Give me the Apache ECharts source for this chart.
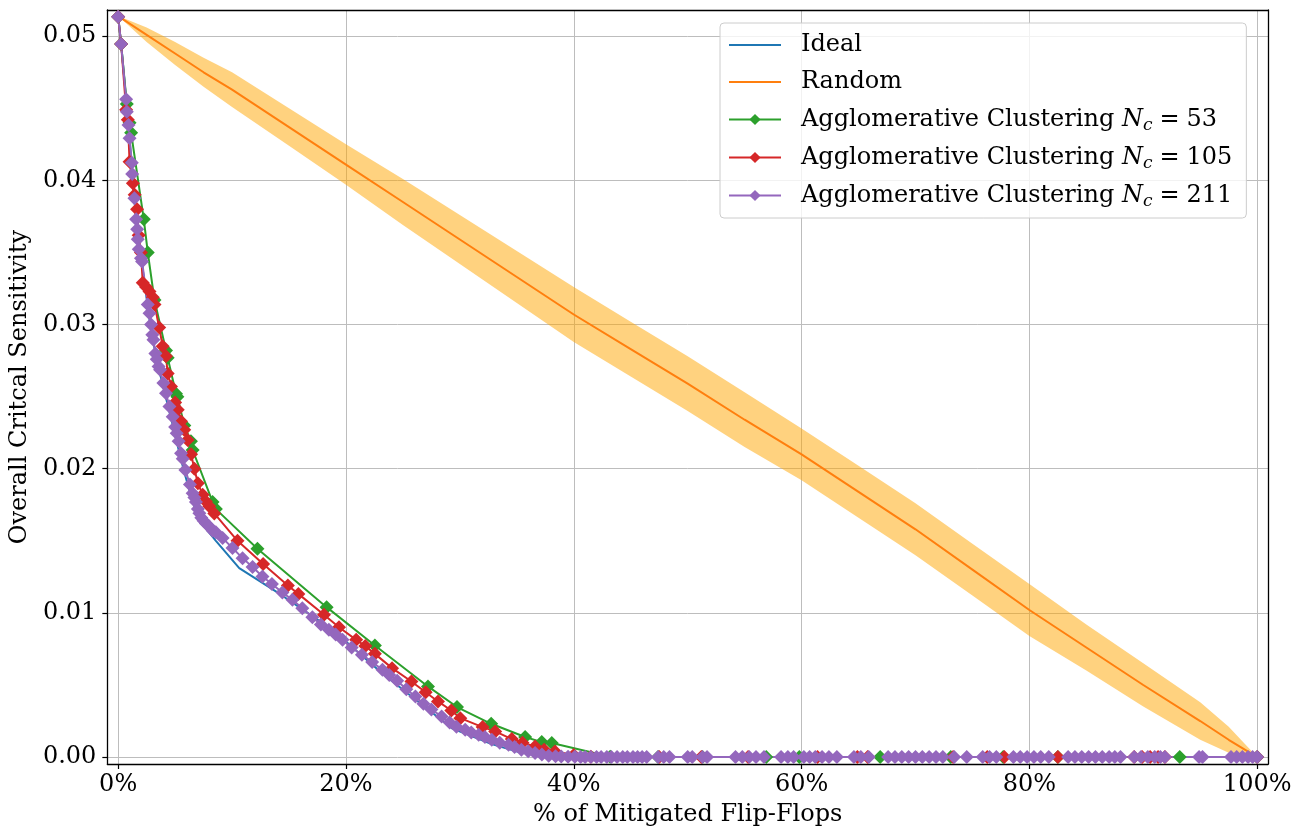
<!DOCTYPE html>
<html><head><meta charset="utf-8">
<script src="https://cdn.jsdelivr.net/npm/echarts@6/dist/echarts.min.js"></script>
<style>html,body{margin:0;padding:0;background:#fff}#c{width:1303px;height:839px}</style>
</head><body><div id="c"></div>
<script>
const xTicks = [0, 20, 40, 60, 80, 100];
const yTicks = [0, 0.01, 0.02, 0.03, 0.04, 0.05];
const seriesNames = ['Ideal', 'Random', 'Agglomerative Clustering Nc53', 'Agglomerative Clustering Nc105', 'Agglomerative Clustering Nc211'];

const idealData = [[0,0.0514],[0.26,0.0495],[0.7,0.0456],[1.0,0.0429],[1.4,0.0389],[1.8,0.0354],[2.1,0.0342],[2.7,0.0306],[3.1,0.0287],[3.7,0.0265],[4.2,0.0249],[4.8,0.0230],[5.5,0.0207],[5.9,0.0195],[6.5,0.0178],[7.13,0.0164],[8.58,0.0150],[10.63,0.0131],[13.84,0.0115],[18.5,0.0090],[20.3,0.0078],[23.2,0.0058],[26.1,0.0040],[29.3,0.0020],[32.8,0.0009],[35.4,0.0003],[37.5,0.0001],[39.0,0],[100,0]];

const randomX = [0, 2.5, 5, 7.5, 10, 15, 20, 25, 30, 35, 40, 45, 50, 55, 60, 65, 70, 75, 80, 85, 90, 95, 97.5, 100];
const randomMean = [0.0514, 0.0501, 0.0488, 0.0475, 0.0463, 0.0437, 0.0411, 0.0385, 0.0359, 0.0333, 0.0307, 0.0283, 0.0259, 0.0234, 0.0210, 0.0184, 0.0158, 0.0130, 0.0102, 0.0076, 0.0050, 0.0025, 0.0012, 0.0];
const randomLow = [0.0514, 0.0496, 0.0480, 0.0465, 0.0451, 0.0424, 0.0397, 0.0369, 0.0342, 0.0315, 0.0288, 0.0264, 0.0240, 0.0215, 0.0192, 0.0166, 0.0140, 0.0112, 0.0084, 0.0060, 0.0035, 0.0012, 0.0003, 0.0];
const randomHigh = [0.0514, 0.0506, 0.0496, 0.0485, 0.0475, 0.0450, 0.0425, 0.0401, 0.0376, 0.0351, 0.0326, 0.0302, 0.0278, 0.0253, 0.0228, 0.0202, 0.0176, 0.0148, 0.0120, 0.0092, 0.0065, 0.0038, 0.0021, 0.0];

const agg53 = [[0,0.05136],[0.26,0.04947],[0.76,0.04530],[1.0,0.04400],[1.14,0.04330],[2.25,0.03730],[2.6,0.03500],[3.19,0.03170],[4.2,0.02820],[4.35,0.02770],[5.08,0.02520],[5.2,0.02500],[5.81,0.02300],[6.39,0.02190],[6.54,0.02130],[8.29,0.01770],[8.58,0.01720],[12.23,0.01445],[18.3,0.01040],[22.54,0.00774],[27.2,0.00490],[29.75,0.00347],[32.75,0.00231],[35.73,0.00139],[37.19,0.00104],[38.07,0.00097],[43.2,0.00002],[47.4,0],[51.3,0],[56.9,0],[59.8,0],[66.9,0],[73.1,0],[77.7,0],[82.5,0],[93.2,0],[100,0]];

const agg105 = [[0,0.05136],[0.26,0.04947],[0.7,0.04490],[0.85,0.04420],[1.0,0.04130],[1.29,0.03980],[1.45,0.03900],[1.66,0.03800],[1.8,0.03620],[2.0,0.03500],[2.16,0.03290],[2.45,0.03260],[2.75,0.03230],[3.04,0.03190],[3.19,0.03140],[3.6,0.02980],[3.91,0.02850],[4.2,0.02780],[4.35,0.02660],[4.64,0.02570],[5.0,0.02460],[5.23,0.02410],[5.52,0.02330],[5.8,0.02270],[6.1,0.02200],[6.4,0.02100],[6.69,0.02000],[7.0,0.01900],[7.42,0.01820],[7.7,0.01773],[8.0,0.01740],[8.44,0.01690],[10.48,0.01500],[12.73,0.01340],[14.9,0.01190],[15.82,0.01132],[18.07,0.00987],[19.39,0.00901],[20.9,0.00813],[21.7,0.00770],[22.54,0.00716],[24.05,0.00617],[25.75,0.00524],[27.0,0.00450],[28.08,0.00386],[29.25,0.00323],[30.04,0.00270],[32.0,0.00208],[33.1,0.00178],[34.56,0.00125],[35.5,0.00100],[36.6,0.00074],[37.4,0.00050],[38.35,0.00039],[40.0,0.00015],[41.5,0.00003],[47.5,0],[51.2,0],[55.3,0],[61.4,0],[64.9,0],[65.8,0],[73.3,0],[76.3,0],[77.8,0],[82.5,0],[89.2,0],[89.9,0],[90.6,0],[91.3,0],[91.9,0],[100,0]];

const agg211 = [[0,0.05136],[0.26,0.04947],[0.7,0.04563],[0.76,0.04477],[0.91,0.04385],[1.0,0.04293],[1.2,0.04123],[1.23,0.04045],[1.43,0.03877],[1.58,0.03731],[1.67,0.03662],[1.72,0.03592],[1.81,0.03523],[2.0,0.03460],[2.1,0.03437],[2.6,0.03140],[2.75,0.03079],[2.89,0.03000],[3.0,0.02930],[3.1,0.02894],[3.27,0.02800],[3.39,0.02760],[3.55,0.02710],[3.68,0.02686],[3.97,0.02594],[4.2,0.02524],[4.5,0.02431],[4.79,0.02360],[5.0,0.02290],[5.14,0.02247],[5.31,0.02190],[5.52,0.02108],[5.67,0.02070],[5.9,0.01992],[6.3,0.01890],[6.54,0.01830],[6.69,0.01800],[6.83,0.01770],[7.0,0.01720],[7.13,0.01692],[7.3,0.01660],[7.5,0.01640],[7.7,0.01620],[8.0,0.01599],[8.3,0.01570],[8.58,0.01560],[9.17,0.01519],[10.04,0.01450],[10.92,0.01380],[11.8,0.01318],[12.67,0.01252],[13.5,0.01200],[14.42,0.01141],[15.3,0.01091],[16.17,0.01033],[17.05,0.00970],[17.8,0.00920],[18.5,0.00883],[19.1,0.00850],[19.7,0.00813],[20.5,0.00760],[21.4,0.00710],[22.3,0.00660],[23.2,0.00605],[23.8,0.00570],[24.5,0.00530],[25.3,0.00470],[26.1,0.00420],[26.8,0.00370],[27.5,0.00330],[28.4,0.00282],[29.1,0.00240],[29.7,0.00210],[30.47,0.00190],[31.0,0.00170],[31.65,0.00155],[32.2,0.00140],[32.8,0.00120],[33.5,0.00100],[34.27,0.00085],[34.8,0.00070],[35.4,0.00050],[36.0,0.00040],[36.6,0.00028],[37.2,0.00018],[37.8,0.00010],[38.4,0.00006],[38.9,0.00004],[39.5,0.00003],[40.1,0.00002],
[40.6,0],[41.0,0],[41.5,0],[42.0,0],[42.4,0],[42.9,0],[43.3,0],[43.8,0],[44.3,0],[44.7,0],[45.2,0],[45.6,0],[46.0,0],[46.4,0],[47.4,0],[47.9,0],[48.4,0],[50.0,0],[50.4,0],[51.3,0],[51.7,0],[54.2,0],[54.8,0],[55.4,0],[56.0,0],[56.7,0],[58.2,0],[58.8,0],[59.3,0],[60.2,0],[60.7,0],[61.2,0],[61.8,0],[62.4,0],[63.1,0],[64.6,0],[65.2,0],[65.9,0],[67.6,0],[68.2,0],[68.8,0],[69.4,0],[70.0,0],[70.6,0],[71.2,0],[71.8,0],[72.4,0],[73.4,0],[74.5,0],[75.9,0],[76.5,0],[77.1,0],[78.6,0],[79.2,0],[79.8,0],[80.4,0],[81.0,0],[81.7,0],[83.4,0],[84.0,0],[84.6,0],[85.2,0],[85.8,0],[86.4,0],[87.0,0],[87.5,0],[88.0,0],[89.2,0],[89.8,0],[90.4,0],[91.0,0],[91.5,0],[91.9,0],[94.9,0],[95.2,0],[97.7,0],[98.2,0],[98.7,0],[99.2,0],[99.6,0],[100,0]];

const FONT = 'DejaVu Serif';
const FS = 24;
const COLORS = {ideal:'#1f77b4', random:'#ff7f0e', green:'#2ca02c', red:'#d62728', purple:'#9467bd'};
const bandData = randomX.map((x, i) => [x, randomLow[i], randomHigh[i]]);
const randomData = randomX.map((x, i) => [x, randomMean[i]]);

function aggSeries(name, data, color) {
  return {
    name, type: 'line', data, symbol: 'diamond', symbolSize: [14, 14], showAllSymbol: true,
    lineStyle: {color, width: 2}, itemStyle: {color}, clip: false, animation: false, z: 3
  };
}

const chart = echarts.init(document.getElementById('c'));
chart.setOption({
  animation: false,
  grid: {left: 105, top: 10, right: 35, bottom: 75},
  xAxis: [{
    type: 'value', min: -0.95, max: 100.95, splitNumber: 5, minInterval: 20, maxInterval: 20,
    axisLine: {show: true, onZero: false, lineStyle: {color: '#000', width: 1.3}},
    axisTick: {show: true, length: 5, customValues: xTicks, lineStyle: {color: '#000', width: 1.2}},
    axisLabel: {customValues: xTicks, formatter: v => Math.round(v) + '%', fontFamily: FONT, fontSize: FS, color: '#000', margin: 9},
    splitLine: {show: true, lineStyle: {color: '#bdbdbd', width: 1}},
    name: '% of Mitigated Flip-Flops', nameLocation: 'middle', nameGap: 39,
    nameTextStyle: {fontFamily: FONT, fontSize: FS, color: '#000'}
  }, {
    type: 'value', position: 'top', min: -0.95, max: 100.95,
    axisLine: {show: true, onZero: false, lineStyle: {color: '#000', width: 1.3}},
    axisTick: {show: false}, axisLabel: {show: false}, splitLine: {show: false}
  }],
  yAxis: [{
    type: 'value', min: -0.00048, max: 0.05182, splitNumber: 5, minInterval: 0.01, maxInterval: 0.01,
    axisLine: {show: true, onZero: false, lineStyle: {color: '#000', width: 1.3}},
    axisTick: {show: true, length: 5, customValues: yTicks, lineStyle: {color: '#000', width: 1.2}},
    axisLabel: {customValues: yTicks, formatter: v => v.toFixed(2), fontFamily: FONT, fontSize: FS, color: '#000', margin: 11},
    splitLine: {show: true, lineStyle: {color: '#bdbdbd', width: 1}},
    name: 'Overall Critcal Sensitivity', nameLocation: 'middle', nameGap: 72,
    nameTextStyle: {fontFamily: FONT, fontSize: FS, color: '#000'}
  }, {
    type: 'value', position: 'right', min: -0.00048, max: 0.05182,
    axisLine: {show: true, onZero: false, lineStyle: {color: '#000', width: 1.3}},
    axisTick: {show: false}, axisLabel: {show: false}, splitLine: {show: false}
  }],
  legend: {
    data: [
      {name: seriesNames[0], itemStyle: {opacity: 0}},
      {name: seriesNames[1], itemStyle: {opacity: 0}},
      seriesNames[2], seriesNames[3], seriesNames[4]
    ],
    orient: 'vertical', left: 720, top: 23,
    itemWidth: 52, itemHeight: 14, itemGap: 9, padding: [8, 14, 8, 8],
    backgroundColor: 'rgba(255,255,255,0.8)', borderColor: '#cccccc', borderWidth: 1, borderRadius: 4,
    selectedMode: false,
    textStyle: {
      fontFamily: FONT, fontSize: FS, color: '#000', lineHeight: 28, padding: [0, 0, 0, 15],
      rich: {
        t: {fontFamily: FONT, fontSize: FS, color: '#000', lineHeight: 28},
        it: {fontFamily: FONT, fontSize: FS, fontStyle: 'italic', color: '#000', lineHeight: 28},
        sub: {fontFamily: FONT, fontSize: 17, fontStyle: 'italic', color: '#000', lineHeight: 28, padding: [12, 0, 0, 0]},
        eq: {fontFamily: FONT, fontSize: FS, color: '#000', lineHeight: 28, padding: [0, 7, 0, 7]}
      }
    },
    formatter: name => {
      const m = name.match(/^Agglomerative Clustering Nc(\d+)$/);
      if (!m) return '{t|' + name + '}';
      return '{t|Agglomerative Clustering }{it|N}{sub|c}{eq|=}{t|' + m[1] + '}';
    }
  },
  series: [
    {name: 'Ideal', type: 'line', data: idealData, symbol: 'none', lineStyle: {color: COLORS.ideal, width: 2}, itemStyle: {color: COLORS.ideal}, z: 2},
    {
      name: 'band', type: 'custom', coordinateSystem: 'cartesian2d', silent: true, z: 2,
      data: bandData, encode: {x: 0, y: [1, 2]},
      renderItem: (params, api) => {
        if (params.dataIndex !== 0) return null;
        const upper = bandData.map(d => api.coord([d[0], d[2]]));
        const lower = bandData.map(d => api.coord([d[0], d[1]])).reverse();
        return {type: 'polygon', shape: {points: upper.concat(lower)}, style: {fill: 'rgba(255,165,0,0.5)'}};
      }
    },
    {name: 'Random', type: 'line', data: randomData, symbol: 'none', lineStyle: {color: COLORS.random, width: 2}, itemStyle: {color: COLORS.random}, z: 2},
    aggSeries(seriesNames[2], agg53, COLORS.green),
    aggSeries(seriesNames[3], agg105, COLORS.red),
    aggSeries(seriesNames[4], agg211, COLORS.purple)
  ]
});
</script></body></html>
